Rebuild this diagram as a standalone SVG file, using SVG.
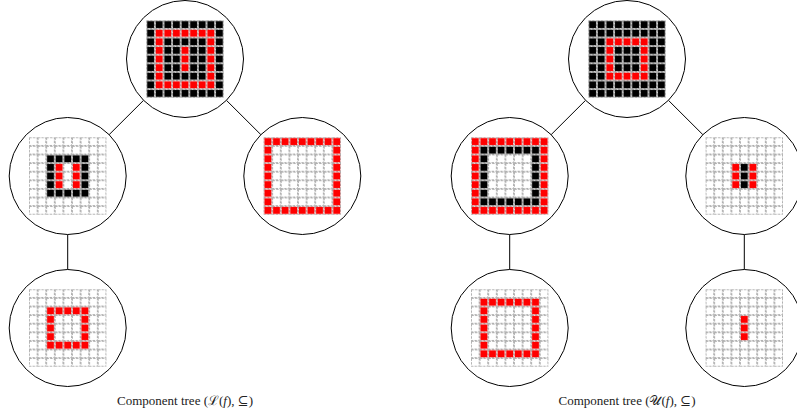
<svg xmlns="http://www.w3.org/2000/svg" width="797" height="413" viewBox="0 0 797 413">
<style>
.node circle{fill:#fff;stroke:#000;stroke-width:1}
.edges line{stroke:#000;stroke-width:1}
.g{fill:url(#pg)}
.k{fill:url(#pk)}
.r{fill:url(#pr)}
.lbl{font-family:"Liberation Serif","DejaVu Serif",serif;font-size:13px;fill:#222}
</style>
<defs>
<pattern id="pg" width="8.6" height="8.6" patternUnits="userSpaceOnUse"><rect x="0.4" y="0.4" width="7.8" height="7.8" fill="none" stroke="#888" stroke-width="0.7" stroke-dasharray="2.4 1.2"/></pattern>
<pattern id="pk" width="8.6" height="8.6" patternUnits="userSpaceOnUse"><rect x="0.8" y="0.8" width="7" height="7" fill="#000"/></pattern>
<pattern id="pr" width="8.6" height="8.6" patternUnits="userSpaceOnUse"><rect x="0.8" y="0.8" width="7" height="7" fill="#f00"/></pattern>
</defs>
<rect width="797" height="413" fill="#fff"/>
<g class="edges">
<line x1="143.6" y1="100.3" x2="109.1" y2="134.7"/>
<line x1="226.4" y1="100.3" x2="260.9" y2="134.7"/>
<line x1="67.7" y1="234.5" x2="67.7" y2="269.5"/>
<line x1="585.6" y1="100.3" x2="551.1" y2="134.7"/>
<line x1="668.4" y1="100.3" x2="702.9" y2="134.7"/>
<line x1="509.7" y1="234.5" x2="509.7" y2="269.5"/>
<line x1="744.3" y1="234.5" x2="744.3" y2="269.5"/>
</g>
<g id="L-root" class="node">
<circle cx="185" cy="59" r="58.5"/>
<g transform="translate(146.3,20.3)">
<rect class="g" width="77.4" height="77.4"/>
<rect class="k" x="0" y="0" width="77.4" height="8.6"/>
<rect class="k" x="0" y="68.8" width="77.4" height="8.6"/>
<rect class="k" x="0" y="8.6" width="8.6" height="60.2"/>
<rect class="k" x="68.8" y="8.6" width="8.6" height="60.2"/>
<rect class="k" x="17.2" y="17.2" width="43" height="8.6"/>
<rect class="k" x="17.2" y="51.6" width="43" height="8.6"/>
<rect class="k" x="17.2" y="25.8" width="17.2" height="25.8"/>
<rect class="k" x="43" y="25.8" width="17.2" height="25.8"/>
<rect class="r" x="8.6" y="8.6" width="60.2" height="8.6"/>
<rect class="r" x="8.6" y="60.2" width="60.2" height="8.6"/>
<rect class="r" x="8.6" y="17.2" width="8.6" height="43"/>
<rect class="r" x="60.2" y="17.2" width="8.6" height="43"/>
<rect class="r" x="34.4" y="25.8" width="8.6" height="25.8"/>
</g>
</g>
<g id="L-a" class="node">
<circle cx="67.7" cy="176" r="58.5"/>
<g transform="translate(29,137.3)">
<rect class="g" width="77.4" height="77.4"/>
<rect class="k" x="17.2" y="17.2" width="43" height="8.6"/>
<rect class="k" x="17.2" y="51.6" width="43" height="8.6"/>
<rect class="k" x="17.2" y="25.8" width="8.6" height="25.8"/>
<rect class="k" x="51.6" y="25.8" width="8.6" height="25.8"/>
<rect class="r" x="25.8" y="25.8" width="8.6" height="25.8"/>
<rect class="r" x="43" y="25.8" width="8.6" height="25.8"/>
</g>
</g>
<g id="L-b" class="node">
<circle cx="302.3" cy="176" r="58.5"/>
<g transform="translate(263.6,137.3)">
<rect class="g" width="77.4" height="77.4"/>
<rect class="r" x="0" y="0" width="77.4" height="8.6"/>
<rect class="r" x="0" y="68.8" width="77.4" height="8.6"/>
<rect class="r" x="0" y="8.6" width="8.6" height="60.2"/>
<rect class="r" x="68.8" y="8.6" width="8.6" height="60.2"/>
</g>
</g>
<g id="L-c" class="node">
<circle cx="67.7" cy="328" r="58.5"/>
<g transform="translate(29,289.3)">
<rect class="g" width="77.4" height="77.4"/>
<rect class="r" x="17.2" y="17.2" width="43" height="8.6"/>
<rect class="r" x="17.2" y="51.6" width="43" height="8.6"/>
<rect class="r" x="17.2" y="25.8" width="8.6" height="25.8"/>
<rect class="r" x="51.6" y="25.8" width="8.6" height="25.8"/>
</g>
</g>
<g id="U-root" class="node">
<circle cx="627" cy="59" r="58.5"/>
<g transform="translate(588.3,20.3)">
<rect class="g" width="77.4" height="77.4"/>
<rect class="k" x="0" y="0" width="77.4" height="17.2"/>
<rect class="k" x="0" y="60.2" width="77.4" height="17.2"/>
<rect class="k" x="0" y="17.2" width="17.2" height="43"/>
<rect class="k" x="60.2" y="17.2" width="17.2" height="43"/>
<rect class="k" x="25.8" y="25.8" width="25.8" height="25.8"/>
<rect class="r" x="17.2" y="17.2" width="43" height="8.6"/>
<rect class="r" x="17.2" y="51.6" width="43" height="8.6"/>
<rect class="r" x="17.2" y="25.8" width="8.6" height="25.8"/>
<rect class="r" x="51.6" y="25.8" width="8.6" height="25.8"/>
</g>
</g>
<g id="U-a" class="node">
<circle cx="509.7" cy="176" r="58.5"/>
<g transform="translate(471,137.3)">
<rect class="g" width="77.4" height="77.4"/>
<rect class="r" x="0" y="0" width="77.4" height="8.6"/>
<rect class="r" x="0" y="68.8" width="77.4" height="8.6"/>
<rect class="r" x="0" y="8.6" width="8.6" height="60.2"/>
<rect class="r" x="68.8" y="8.6" width="8.6" height="60.2"/>
<rect class="k" x="8.6" y="8.6" width="60.2" height="8.6"/>
<rect class="k" x="8.6" y="60.2" width="60.2" height="8.6"/>
<rect class="k" x="8.6" y="17.2" width="8.6" height="43"/>
<rect class="k" x="60.2" y="17.2" width="8.6" height="43"/>
</g>
</g>
<g id="U-b" class="node">
<circle cx="744.3" cy="176" r="58.5"/>
<g transform="translate(705.6,137.3)">
<rect class="g" width="77.4" height="77.4"/>
<rect class="r" x="25.8" y="25.8" width="8.6" height="25.8"/>
<rect class="k" x="34.4" y="25.8" width="8.6" height="25.8"/>
<rect class="r" x="43" y="25.8" width="8.6" height="25.8"/>
</g>
</g>
<g id="U-c" class="node">
<circle cx="509.7" cy="328" r="58.5"/>
<g transform="translate(471,289.3)">
<rect class="g" width="77.4" height="77.4"/>
<rect class="r" x="8.6" y="8.6" width="60.2" height="8.6"/>
<rect class="r" x="8.6" y="60.2" width="60.2" height="8.6"/>
<rect class="r" x="8.6" y="17.2" width="8.6" height="43"/>
<rect class="r" x="60.2" y="17.2" width="8.6" height="43"/>
</g>
</g>
<g id="U-d" class="node">
<circle cx="744.3" cy="328" r="58.5"/>
<g transform="translate(705.6,289.3)">
<rect class="g" width="77.4" height="77.4"/>
<rect class="r" x="34.4" y="25.8" width="8.6" height="25.8"/>
</g>
</g>
<text class="lbl" x="185" y="405" text-anchor="middle">Component tree (ℒ(<tspan font-style="italic">f</tspan>), ⊆)</text>
<text class="lbl" x="627" y="405" text-anchor="middle">Component tree (𝒰(<tspan font-style="italic">f</tspan>), ⊆)</text>
</svg>
